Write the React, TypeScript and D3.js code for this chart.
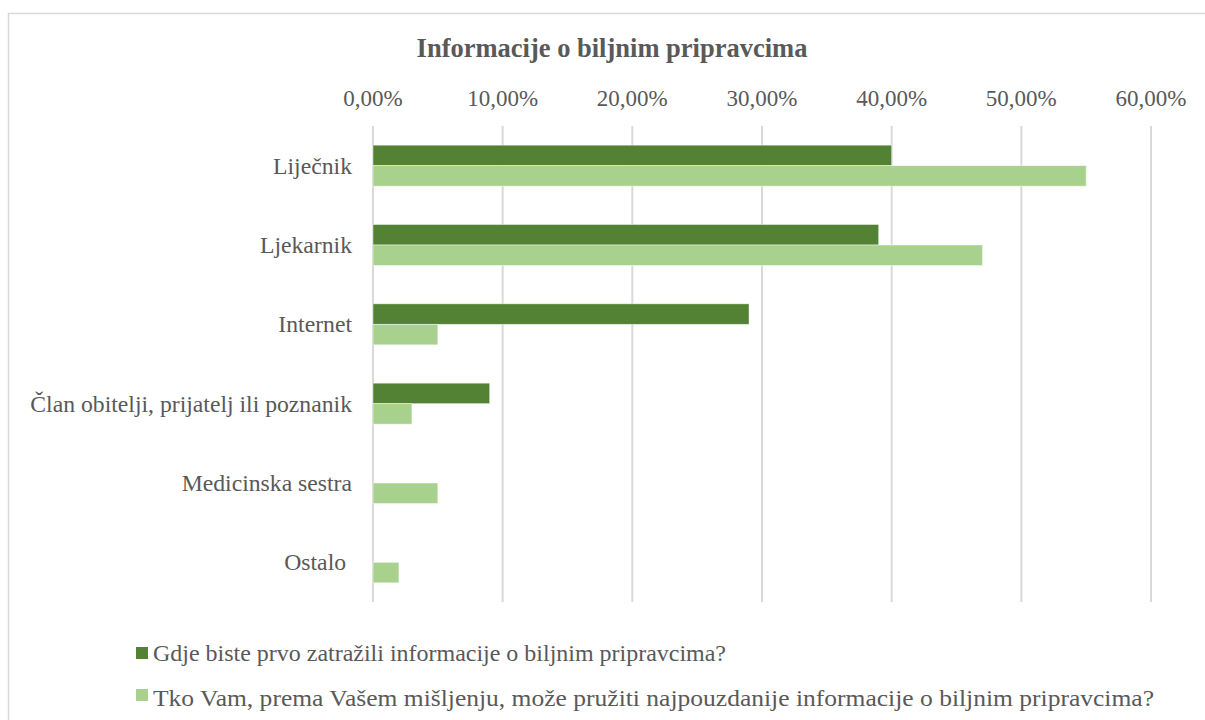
import React from "react";
import * as d3 from "d3";

const categories = [
  "Liječnik",
  "Ljekarnik",
  "Internet",
  "Član obitelji, prijatelj ili poznanik",
  "Medicinska sestra",
  "Ostalo ",
];
const seriesNames = [
  "Gdje biste prvo zatražili informacije o biljnim pripravcima?",
  "Tko Vam, prema Vašem mišljenju, može pružiti najpouzdanije informacije o biljnim pripravcima?",
];
const firstValues = [0.4, 0.39, 0.29, 0.09, 0, 0];
const secondValues = [0.55, 0.47, 0.05, 0.03, 0.05, 0.02];
const tickValues = [0, 0.1, 0.2, 0.3, 0.4, 0.5, 0.6];
const colors = ["#548235", "#A9D18E"];
const legendWidths = [573, 1001];

const W = 1205;
const H = 720;
const FONT = "Liberation Serif";
const TEXT = "#595959";

export default function App() {
  const x = d3.scaleLinear().domain([0, 0.6]).range([373, 1151]);
  const p = 0.483;
  const y = d3
    .scaleBand<string>()
    .domain(categories)
    .range([126, 602])
    .paddingInner(p)
    .paddingOuter(p / 2);
  const sub = d3
    .scaleBand<number>()
    .domain([0, 1])
    .range([0, y.bandwidth()]);
  const fmt = (v: number) => (v * 100).toFixed(2).replace(".", ",") + "%";
  const series = [firstValues, secondValues];
  const ts = { fontFamily: FONT };

  return (
    <svg
      width={W}
      height={H}
      style={{ position: "absolute", left: 0, top: 0, background: "#fff" }}
    >
      <rect x={8.5} y={13.5} width={1210} height={720} fill="#fff" stroke="#d9d9d9" strokeWidth={1.5} />
      <text x={612} y={57} textAnchor="middle" fontSize={26.5} fontWeight="bold" fill={TEXT} style={ts}>
        Informacije o biljnim pripravcima
      </text>
      {tickValues.map((t) => (
        <g key={t}>
          <line x1={x(t)} x2={x(t)} y1={126} y2={602} stroke="#d9d9d9" strokeWidth={2} />
          <text x={x(t)} y={106} textAnchor="middle" fontSize={23} fill={TEXT} style={ts}>
            {fmt(t)}
          </text>
        </g>
      ))}
      {categories.map((c, i) => (
        <g key={c}>
          <text
            x={352}
            y={(y(c) as number) + y.bandwidth() / 2 + 8}
            textAnchor="end"
            fontSize={23.7}
            fill={TEXT}
            style={{ ...ts, whiteSpace: "pre" }}
          >
            {c}
          </text>
          {series.map((vals, s) =>
            vals[i] > 0 ? (
              <rect
                key={s}
                x={x(0)}
                y={(y(c) as number) + (sub(s) as number)}
                width={x(vals[i]) - x(0)}
                height={sub.bandwidth()}
                fill={colors[s]}
                stroke="#fff"
                strokeOpacity={0.6}
                strokeWidth={0.75}
              />
            ) : null
          )}
        </g>
      ))}
      {seriesNames.map((n, s) => (
        <g key={n}>
          <rect x={136} y={647 + s * 42} width={12} height={12} fill={colors[s]} />
          <text
            x={153}
            y={661 + s * 45}
            fontSize={24}
            fill={TEXT}
            style={ts}
            textLength={legendWidths[s]}
            lengthAdjust="spacingAndGlyphs"
          >
            {n}
          </text>
        </g>
      ))}
    </svg>
  );
}
